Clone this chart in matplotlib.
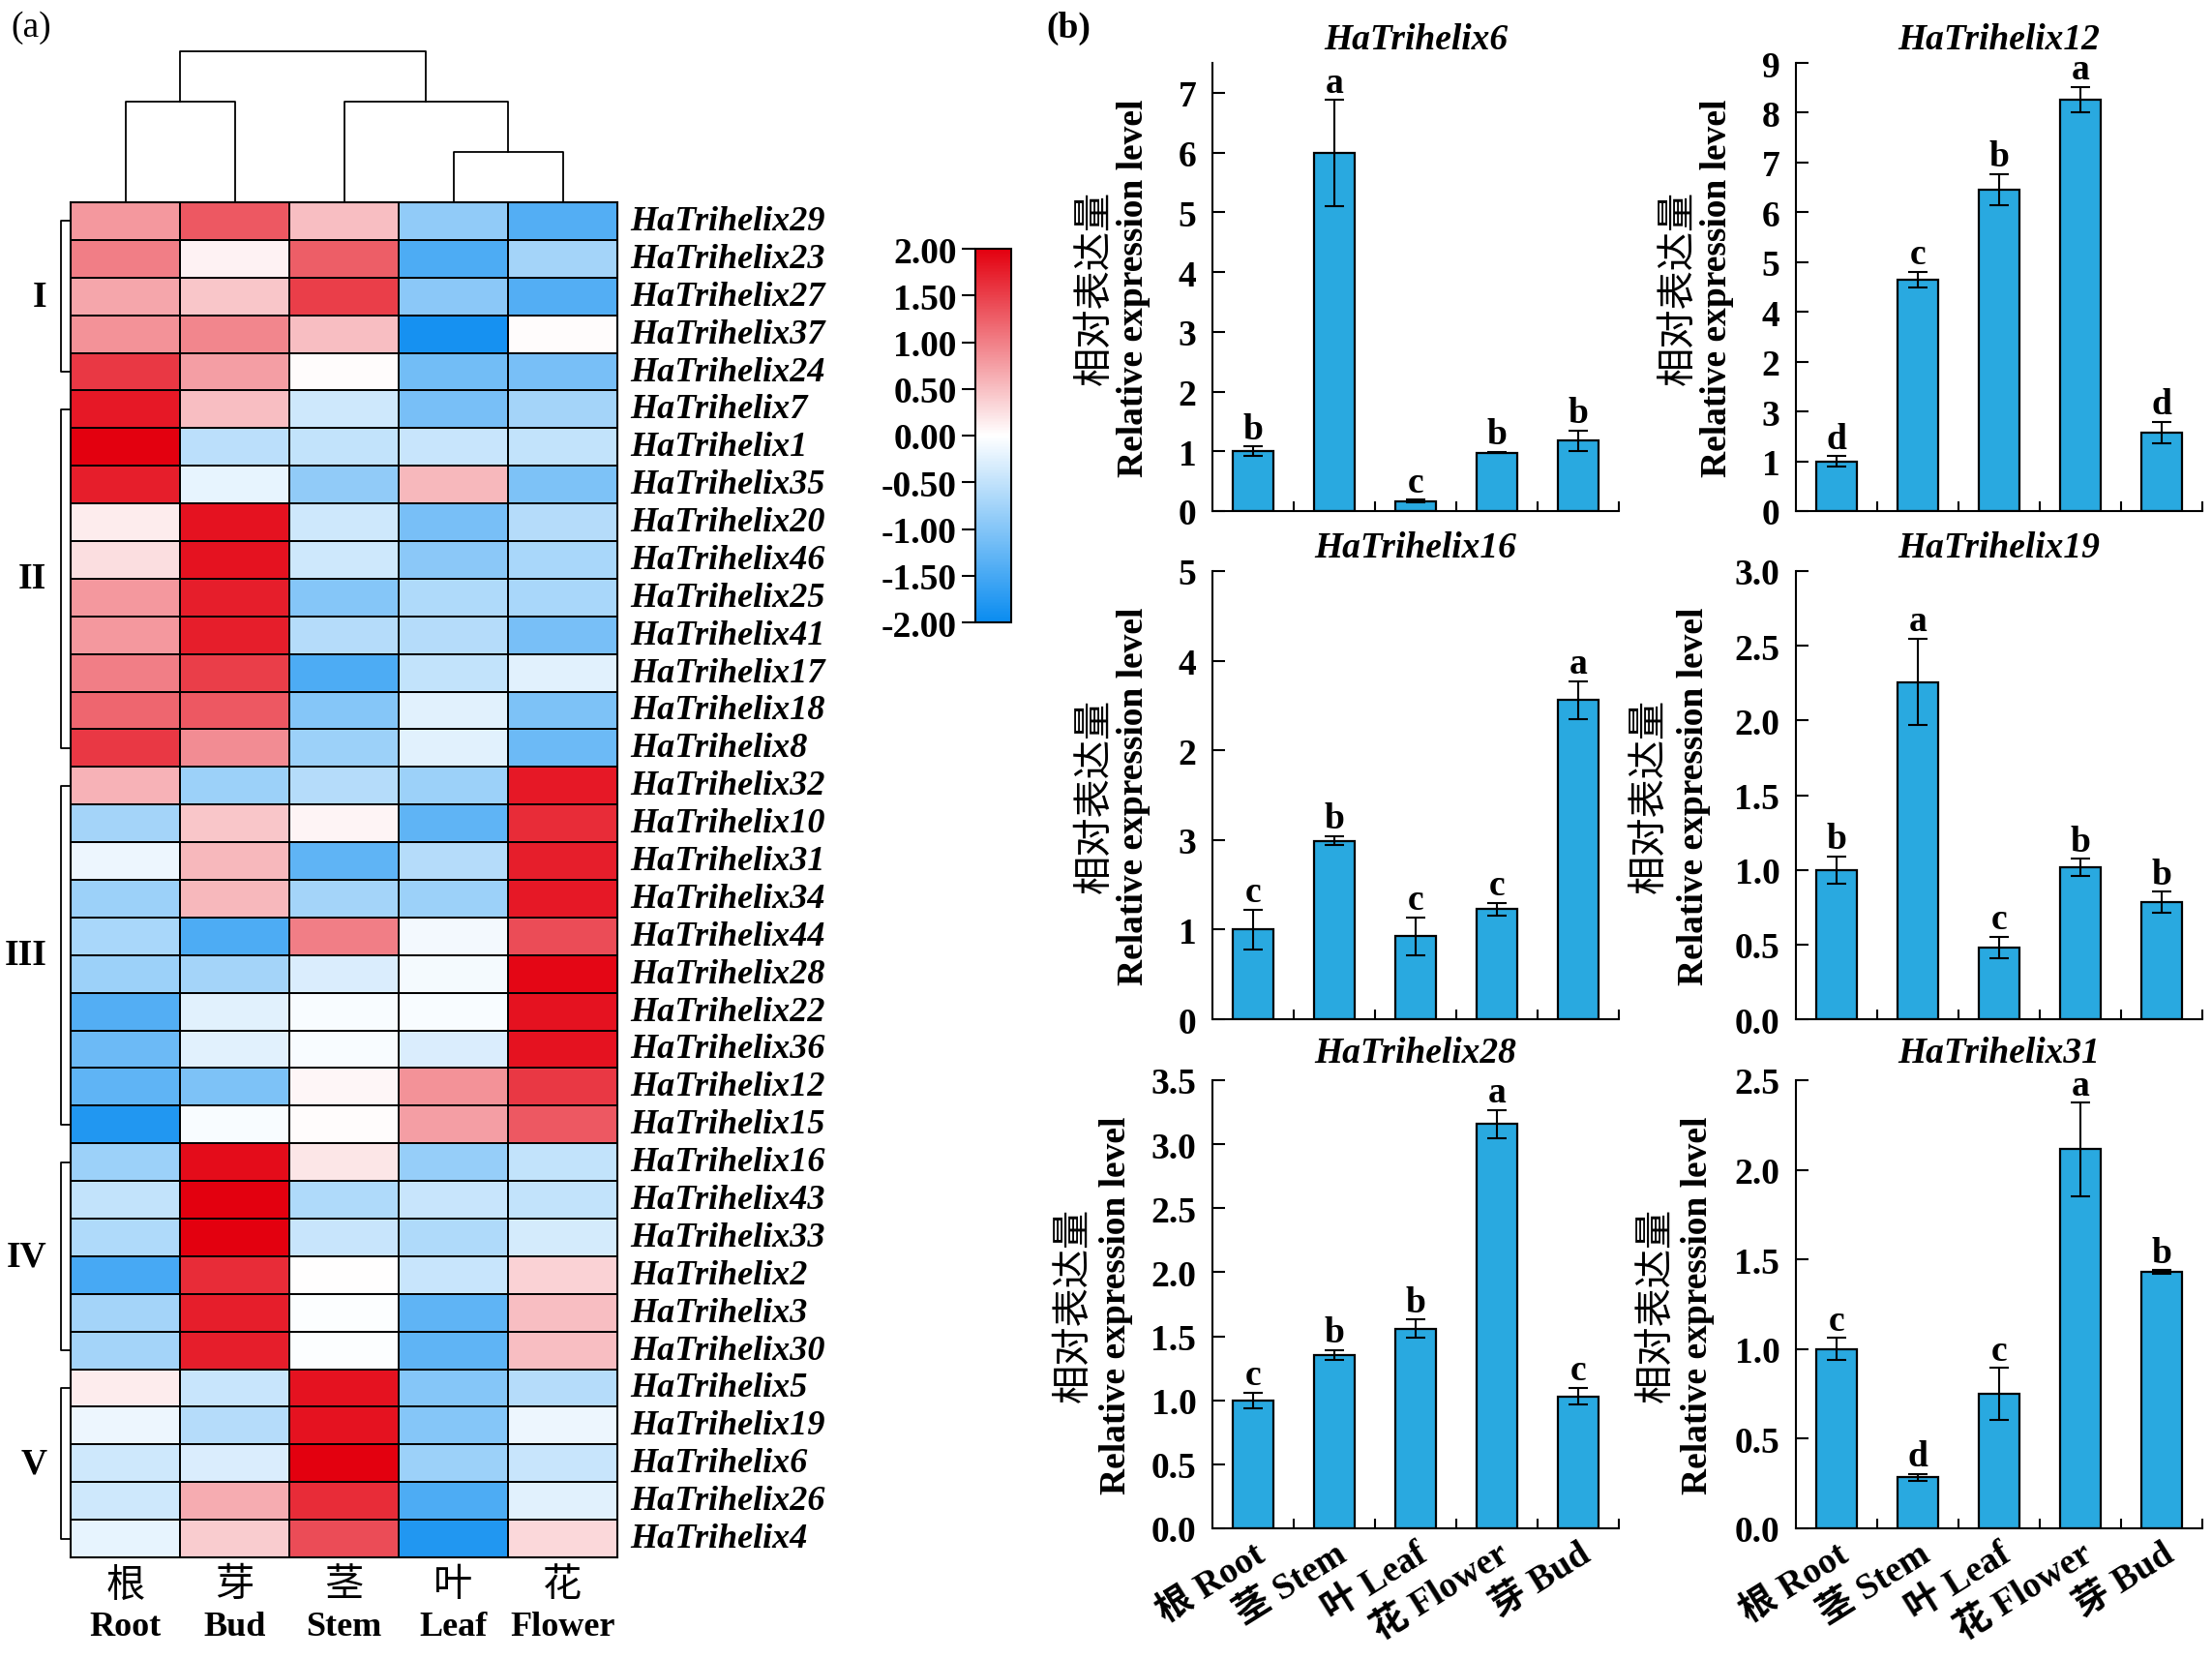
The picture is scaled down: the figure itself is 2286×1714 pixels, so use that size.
import numpy as np
import matplotlib.pyplot as plt
from matplotlib.colors import LinearSegmentedColormap

plt.rcParams['font.family'] = ['Liberation Serif', 'Noto Sans CJK SC']
plt.rcParams['axes.unicode_minus'] = False

# ---------------- heatmap data ----------------
tissues_cn = ['根', '芽', '茎', '叶', '花']
tissues_en = ['Root', 'Bud', 'Stem', 'Leaf', 'Flower']

genes = ['HaTrihelix29', 'HaTrihelix23', 'HaTrihelix27', 'HaTrihelix37', 'HaTrihelix24',
         'HaTrihelix7', 'HaTrihelix1', 'HaTrihelix35', 'HaTrihelix20', 'HaTrihelix46',
         'HaTrihelix25', 'HaTrihelix41', 'HaTrihelix17', 'HaTrihelix18', 'HaTrihelix8',
         'HaTrihelix32', 'HaTrihelix10', 'HaTrihelix31', 'HaTrihelix34', 'HaTrihelix44',
         'HaTrihelix28', 'HaTrihelix22', 'HaTrihelix36', 'HaTrihelix12', 'HaTrihelix15',
         'HaTrihelix16', 'HaTrihelix43', 'HaTrihelix33', 'HaTrihelix2', 'HaTrihelix3',
         'HaTrihelix30', 'HaTrihelix5', 'HaTrihelix19', 'HaTrihelix6', 'HaTrihelix26',
         'HaTrihelix4']

# columns: Root, Bud, Stem, Leaf, Flower
heat = np.array([
    [0.80, 1.30, 0.50, -0.90, -1.40],
    [1.00, 0.10, 1.25, -1.45, -0.75],
    [0.70, 0.45, 1.50, -0.95, -1.40],
    [0.85, 0.95, 0.50, -1.90, 0.03],
    [1.55, 0.75, 0.03, -1.15, -1.10],
    [1.80, 0.50, -0.40, -1.10, -0.75],
    [2.00, -0.55, -0.50, -0.45, -0.50],
    [1.75, -0.20, -0.90, 0.55, -1.05],
    [0.15, 1.85, -0.40, -1.10, -0.60],
    [0.25, 1.85, -0.40, -0.95, -0.70],
    [0.80, 1.75, -1.00, -0.65, -0.70],
    [0.80, 1.75, -0.60, -0.60, -1.10],
    [1.00, 1.50, -1.45, -0.50, -0.25],
    [1.20, 1.30, -1.00, -0.25, -1.05],
    [1.55, 0.90, -0.80, -0.25, -1.20],
    [0.60, -0.80, -0.60, -0.80, 1.80],
    [-0.75, 0.45, 0.08, -1.30, 1.65],
    [-0.15, 0.55, -1.30, -0.60, 1.75],
    [-0.80, 0.55, -0.75, -0.80, 1.80],
    [-0.70, -1.45, 1.00, -0.10, 1.40],
    [-0.80, -0.75, -0.30, -0.08, 1.95],
    [-1.40, -0.25, -0.05, -0.05, 1.85],
    [-1.20, -0.25, -0.05, -0.30, 1.85],
    [-1.30, -1.05, 0.07, 0.85, 1.55],
    [-1.80, -0.05, 0.03, 0.75, 1.30],
    [-0.80, 1.90, 0.20, -0.85, -0.50],
    [-0.50, 2.00, -0.65, -0.45, -0.50],
    [-0.65, 2.00, -0.45, -0.65, -0.35],
    [-1.50, 1.65, 0.00, -0.45, 0.35],
    [-0.75, 1.75, -0.03, -1.30, 0.50],
    [-0.75, 1.75, -0.03, -1.30, 0.50],
    [0.15, -0.45, 1.85, -1.00, -0.60],
    [-0.15, -0.60, 1.85, -1.00, -0.15],
    [-0.40, -0.30, 2.00, -0.80, -0.45],
    [-0.40, 0.65, 1.65, -1.45, -0.25],
    [-0.20, 0.40, 1.40, -1.80, 0.30],
])

group_names = ['I', 'II', 'III', 'IV', 'V']
group_first = [0, 5, 15, 25, 31]
group_last = [4, 14, 24, 30, 35]

# column dendrogram, scipy-like linkage: (child a, child b, height)
col_links = [(3, 4, 1.0), (0, 1, 2.0), (2, 5, 2.0), (6, 7, 3.0)]

cbar_ticks = [-2.0, -1.5, -1.0, -0.5, 0.0, 0.5, 1.0, 1.5, 2.0]

# ---------------- bar data ----------------
bar_tissues = ['根 Root', '茎 Stem', '叶 Leaf', '花 Flower', '芽 Bud']

ht6_val = [1.00, 5.99, 0.17, 0.98, 1.18]
ht6_err = [0.08, 0.89, 0.02, 0.01, 0.17]
ht6_let = ['b', 'a', 'c', 'b', 'b']

ht12_val = [1.00, 4.65, 6.46, 8.26, 1.58]
ht12_err = [0.10, 0.16, 0.31, 0.26, 0.21]
ht12_let = ['d', 'c', 'b', 'a', 'd']

ht16_val = [1.00, 1.99, 0.925, 1.23, 3.56]
ht16_err = [0.22, 0.05, 0.21, 0.07, 0.21]
ht16_let = ['c', 'b', 'c', 'c', 'a']

ht19_val = [1.00, 2.257, 0.479, 1.017, 0.784]
ht19_err = [0.09, 0.29, 0.073, 0.057, 0.07]
ht19_let = ['b', 'a', 'c', 'b', 'b']

ht28_val = [1.00, 1.353, 1.56, 3.158, 1.03]
ht28_err = [0.06, 0.04, 0.07, 0.11, 0.065]
ht28_let = ['c', 'b', 'b', 'a', 'c']

ht31_val = [1.00, 0.285, 0.75, 2.114, 1.429]
ht31_err = [0.062, 0.018, 0.145, 0.26, 0.01]
ht31_let = ['c', 'd', 'c', 'a', 'b']

ht6_ticks = [0, 1, 2, 3, 4, 5, 6, 7]
ht6_tlab = ['0', '1', '2', '3', '4', '5', '6', '7']
ht12_ticks = [0, 1, 2, 3, 4, 5, 6, 7, 8, 9]
ht12_tlab = ['0', '1', '3', '2', '4', '5', '6', '7', '8', '9']
ht16_ticks = [0, 1, 2, 3, 4, 5]
ht16_tlab = ['0', '1', '3', '2', '4', '5']
ht19_ticks = [0.0, 0.5, 1.0, 1.5, 2.0, 2.5, 3.0]
ht28_ticks = [0.0, 0.5, 1.0, 1.5, 2.0, 2.5, 3.0, 3.5]
ht31_ticks = [0.0, 0.5, 1.0, 1.5, 2.0, 2.5]

FS = 27
CJK = 29
W, H = 2286, 1715
fig = plt.figure(figsize=(W / 100, H / 100), dpi=100)

# ================= (a) heatmap =================
cmap = LinearSegmentedColormap.from_list('bwr2', ['#0A8CF0', '#FFFFFF', '#E3000F'])
hx0, hx1, hy0, hy1 = 73, 638, 210, 1610
axh = fig.add_axes([hx0 / W, 1 - hy1 / H, (hx1 - hx0) / W, (hy1 - hy0) / H])
nrow, ncol = heat.shape
mesh = axh.pcolormesh(np.arange(ncol + 1), np.arange(nrow + 1), heat, cmap=cmap,
                      vmin=-2, vmax=2, edgecolors='black', linewidth=1.3)
axh.set_xlim(0, ncol)
axh.set_ylim(nrow, 0)
axh.set_xticks([])
axh.set_yticks([])
for s in axh.spines.values():
    s.set_linewidth(1.5)

for i, g in enumerate(genes):
    axh.text(ncol + 0.12, i + 0.5, g, ha='left', va='center', fontsize=26,
             fontstyle='italic', fontweight='bold')

for j in range(ncol):
    axh.text(j + 0.5, nrow + 0.72, tissues_cn[j], ha='center', va='center',
             fontsize=CJK, family=['Noto Sans CJK SC'])
    axh.text(j + 0.5, nrow + 1.85, tissues_en[j], ha='center', va='center',
             fontsize=26, fontweight='bold')

# group brackets
bx = -0.09
for name, r0, r1 in zip(group_names, group_first, group_last):
    y0, y1 = r0 + 0.5, r1 + 0.5
    axh.plot([0, bx, bx, 0], [y0, y0, y1, y1], color='black', lw=1.3, clip_on=False)
    axh.text(-0.22, (y0 + y1) / 2, name, ha='right', va='center', fontsize=FS,
             fontweight='bold')

# column dendrogram
axd = fig.add_axes([hx0 / W, 1 - hy0 / H, (hx1 - hx0) / W, (hy0 - 54) / H])
node_x = [j + 0.5 for j in range(ncol)]
node_h = [0.0] * ncol
for a, b, h in col_links:
    xa, xb = node_x[a], node_x[b]
    axd.plot([xa, xa, xb, xb], [node_h[a], h, h, node_h[b]], color='black', lw=1.3,
             clip_on=False)
    node_x.append((xa + xb) / 2)
    node_h.append(h)
axd.set_xlim(0, ncol)
axd.set_ylim(0, 3.0)
axd.axis('off')

# colorbar
cax = fig.add_axes([1008 / W, 1 - 644 / H, 37 / W, 386 / H])
cb = fig.colorbar(mesh, cax=cax, ticks=cbar_ticks)
cb.outline.set_linewidth(1.5)
cax.yaxis.set_ticks_position('left')
cax.set_yticklabels(['%.2f' % t for t in cbar_ticks])
cax.tick_params(axis='y', direction='out', length=10, width=1.5, labelsize=FS, pad=4)
for t in cax.get_yticklabels():
    t.set_fontweight('bold')

fig.text(32 / W, 1 - 29 / H, '(a)', ha='center', va='center', fontsize=FS)
fig.text(1104 / W, 1 - 29 / H, '(b)', ha='center', va='center', fontsize=FS,
         fontweight='bold')

# ================= (b) bar charts =================
panels = [
    ('HaTrihelix6', ht6_val, ht6_err, ht6_let, 7.5, ht6_ticks, ht6_tlab),
    ('HaTrihelix12', ht12_val, ht12_err, ht12_let, 9.0, ht12_ticks, ht12_tlab),
    ('HaTrihelix16', ht16_val, ht16_err, ht16_let, 5.0, ht16_ticks, ht16_tlab),
    ('HaTrihelix19', ht19_val, ht19_err, ht19_let, 3.0, ht19_ticks,
     ['%.1f' % t for t in ht19_ticks]),
    ('HaTrihelix28', ht28_val, ht28_err, ht28_let, 3.5, ht28_ticks,
     ['%.1f' % t for t in ht28_ticks]),
    ('HaTrihelix31', ht31_val, ht31_err, ht31_let, 2.5, ht31_ticks,
     ['%.1f' % t for t in ht31_ticks]),
]
col_left = [1253, 1856]
row_top = [66, 591, 1117]
aw, ah = 420, 463
ylab_off = [(-122, -82), (-122, -82), (-122, -82), (-152, -105), (-144, -100), (-145, -101)]
title_pad = [11, 11, 14]

for k, (name, vals, errs, lets, ymax, ticks, tlabs) in enumerate(panels):
    r, c = divmod(k, 2)
    ax = fig.add_axes([col_left[c] / W, 1 - (row_top[r] + ah) / H, aw / W, ah / H])
    x = np.arange(len(vals))
    ax.bar(x, vals, width=0.5, color='#29A9E0', edgecolor='black', linewidth=1.6,
           zorder=2)
    ax.errorbar(x, vals, yerr=errs, fmt='none', ecolor='black', elinewidth=1.5,
                capsize=7, capthick=1.5, zorder=3)
    for xi, v, e, l in zip(x, vals, errs, lets):
        ax.annotate(l, (xi, v + e), xytext=(0, 0.5), textcoords='offset points',
                    ha='center', va='bottom', fontsize=FS, fontweight='bold')
    ax.set_xlim(-0.5, 4.5)
    ax.set_ylim(0, ymax)
    ax.spines['top'].set_visible(False)
    ax.spines['right'].set_visible(False)
    ax.spines['left'].set_linewidth(1.5)
    ax.spines['bottom'].set_linewidth(1.5)
    ax.set_yticks(ticks)
    ax.set_yticklabels(tlabs)
    ax.tick_params(axis='y', direction='in', length=9, width=1.5, labelsize=FS, pad=12)
    for t in ax.get_yticklabels():
        t.set_fontweight('bold')
    ax.set_xticks(x)
    ax.set_xticks(np.arange(0.5, 5, 1.0), minor=True)
    ax.tick_params(axis='x', which='major', length=0, labelsize=FS, pad=6)
    ax.tick_params(axis='x', which='minor', direction='in', length=7, width=1.5)
    if r == 2:
        ax.set_xticklabels(bar_tissues, rotation=32, ha='right', va='top',
                           rotation_mode='anchor', fontweight='bold')
    else:
        ax.set_xticklabels([])
    ax.set_title(name, fontsize=FS, fontstyle='italic', fontweight='bold',
                 pad=title_pad[r])
    cn_off, en_off = ylab_off[k]
    ax.text(cn_off / aw, 0.5, '相对表达量', transform=ax.transAxes, rotation=90,
            ha='center', va='center', fontsize=CJK, family=['Noto Sans CJK SC'])
    ax.text(en_off / aw, 0.5, 'Relative expression level', transform=ax.transAxes,
            rotation=90, ha='center', va='center', fontsize=FS, fontweight='bold')

fig.savefig('out.png', dpi=100)
